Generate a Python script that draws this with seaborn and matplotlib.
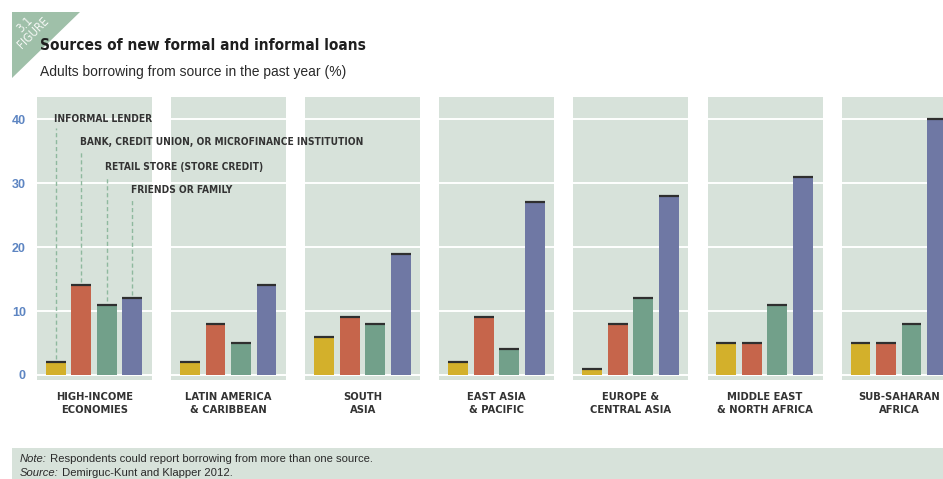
import matplotlib
matplotlib.use("Agg")
import matplotlib.pyplot as plt
import seaborn as sns
import pandas as pd
from matplotlib.patches import Polygon, Rectangle

# ---- data -------------------------------------------------------------
regions = ["HIGH-INCOME\nECONOMIES", "LATIN AMERICA\n& CARIBBEAN", "SOUTH\nASIA",
           "EAST ASIA\n& PACIFIC", "EUROPE &\nCENTRAL ASIA",
           "MIDDLE EAST\n& NORTH AFRICA", "SUB-SAHARAN\nAFRICA"]
sources = ["INFORMAL LENDER",
           "BANK, CREDIT UNION, OR MICROFINANCE INSTITUTION",
           "RETAIL STORE (STORE CREDIT)",
           "FRIENDS OR FAMILY"]
informal_lender = [2, 2, 6, 2, 1, 5, 5]
bank_credit_union = [14, 8, 9, 9, 8, 5, 5]
retail_store = [11, 5, 8, 4, 12, 11, 8]
friends_family = [12, 14, 19, 27, 28, 31, 40]
y_ticks = [0, 10, 20, 30, 40]
legend_label_y = [40, 36.4, 32.5, 28.9]

colors = ["#d3b02b", "#c6654b", "#72a08a", "#6f78a4"]
panel_bg = "#d7e2da"
regular = ["Liberation Sans", "DejaVu Sans"]
COND = dict(family="DejaVu Sans", fontstretch="condensed")

rows = []
for r_i, reg in enumerate(regions):
    for s, vals in zip(sources, [informal_lender, bank_credit_union, retail_store, friends_family]):
        rows.append({"region": reg, "source": s, "value": vals[r_i]})
df = pd.DataFrame(rows)

sns.set_theme(style="white")
plt.rcParams["font.family"] = regular

W, H = 943, 479
fig = plt.figure(figsize=(W / 100, H / 100), dpi=100)


def fx(px):
    return px / W


def fy(py):
    return 1 - py / H


# ---- figure badge -----------------------------------------------------
badge = Polygon([(fx(12), fy(12)), (fx(80), fy(12)), (fx(12), fy(78))],
                closed=True, transform=fig.transFigure, facecolor="#9fc0a9",
                edgecolor="none")
fig.patches.append(badge)
fig.text(fx(33), fy(33), "FIGURE", rotation=45, ha="center", va="center",
         fontsize=8.5, color="#f4f7f4", **COND)
fig.text(fx(25), fy(25), "3.1", rotation=45, ha="center", va="center",
         fontsize=8.5, color="#f4f7f4", **COND)

fig.text(fx(40), fy(46), "Sources of new formal and informal loans",
         ha="left", va="center", fontsize=11.1, fontweight="bold",
         color="#1f1f1f", **COND)
fig.text(fx(40), fy(72), "Adults borrowing from source in the past year (%)",
         ha="left", va="center", fontsize=10, color="#2a2a2a", family=regular)

# ---- panels -----------------------------------------------------------
panel_left = 37
panel_step = 134.1
panel_w = 115
panel_top, panel_bot = 97, 380

axes = []
for i, reg in enumerate(regions):
    left = panel_left + i * panel_step
    ax = fig.add_axes([fx(left), fy(panel_bot), panel_w / W, (panel_bot - panel_top) / H])
    sub = df[df["region"] == reg]
    sns.barplot(data=sub, x="source", y="value", hue="source", order=sources,
                hue_order=sources, palette=colors, width=0.78, legend=False,
                saturation=1, ax=ax, edgecolor="none", zorder=2)
    vals = sub["value"].tolist()
    ax.hlines(vals, [k - 0.39 for k in range(4)], [k + 0.39 for k in range(4)],
              color="#2f2f2f", lw=1.6, zorder=3)
    ax.set_facecolor(panel_bg)
    ax.set_xlim(-0.74, 3.77)
    ax.set_ylim(-0.8, 43.5)
    ax.set_yticks(y_ticks)
    ax.yaxis.grid(True, color="white", lw=1.4, zorder=0)
    ax.set_axisbelow(True)
    ax.set_xticks([])
    ax.set_xlabel("")
    ax.set_ylabel("")
    for sp in ax.spines.values():
        sp.set_visible(False)
    if i == 0:
        ax.tick_params(axis="y", length=0, pad=8)
        for lab in ax.get_yticklabels():
            lab.set_color("#5d85c2")
            lab.set_fontweight("bold")
            lab.set_fontsize(9)
    else:
        ax.set_yticklabels([])
        ax.tick_params(axis="y", length=0)
    ax.text(0.5, -0.083, reg, transform=ax.transAxes, ha="center", va="center",
            fontsize=8, color="#333333", fontweight="bold",
            linespacing=1.4, **COND)
    axes.append(ax)

# ---- series labels with leader lines on the first panel -----------------
ax0 = axes[0]
first_vals = df[df["region"] == regions[0]]["value"].tolist()
for k, (s, ly) in enumerate(zip(sources, legend_label_y)):
    ax0.vlines(k, first_vals[k] + 0.5, ly - 1.3, colors="#8fb99e", lw=1,
               linestyles=(0, (3, 2)), zorder=1)
    fig.text(k - 0.06, ly, s, transform=ax0.transData, ha="left", va="center",
             fontsize=7.3, color="#333333", fontweight="bold", **COND)

# ---- note box -----------------------------------------------------------
fig.patches.append(Rectangle((fx(12), 0), 1 - fx(12), fy(448), transform=fig.transFigure,
                             facecolor=panel_bg, edgecolor="none"))
renderer = fig.canvas.get_renderer()
for py, head, rest in [(459, "Note:", " Respondents could report borrowing from more than one source."),
                       (473, "Source:", " Demirguc-Kunt and Klapper 2012.")]:
    t = fig.text(fx(20), fy(py), head, ha="left", va="center", fontsize=8.1,
                 color="#2a2a2a", style="italic", family=regular)
    bb = t.get_window_extent(renderer=renderer)
    fig.text(bb.x1 / W, fy(py), rest, ha="left", va="center", fontsize=8.1,
             color="#2a2a2a", family=regular)

fig.savefig("out.png", dpi=100)
